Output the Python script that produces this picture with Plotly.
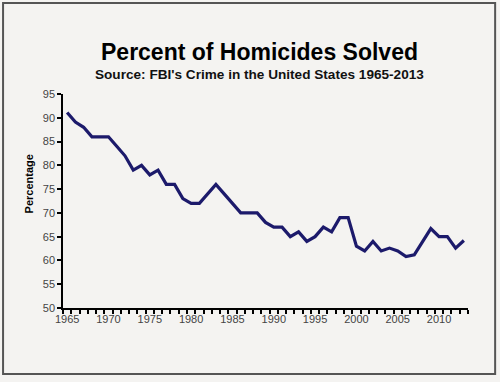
import plotly.graph_objects as go

years = list(range(1965, 2014))
solved_pct = [91.1, 89.1, 88.0, 86.0, 86.0, 86.0, 84.0, 82.0, 79.0, 80.0,
              78.0, 79.0, 76.0, 76.0, 73.0, 72.0, 72.0, 74.0, 76.0, 74.0,
              72.0, 70.0, 70.0, 70.0, 68.0, 67.0, 67.0, 65.0, 66.0, 64.0,
              65.0, 67.0, 66.0, 69.0, 69.0, 63.0, 62.0, 64.0, 62.0, 62.6,
              62.0, 60.8, 61.2, 63.8, 66.7, 65.0, 65.0, 62.6, 64.2]
x_labels = [1965, 1970, 1975, 1980, 1985, 1990, 1995, 2000, 2005, 2010]
y_ticks = [50, 55, 60, 65, 70, 75, 80, 85, 90, 95]

fig = go.Figure()
fig.add_trace(go.Scatter(x=years, y=solved_pct, mode="lines",
                         line=dict(color="#1c1a6b", width=3.2),
                         hoverinfo="x+y"))

fig.update_layout(
    width=500, height=382,
    margin=dict(l=63, r=32, t=94, b=74),
    paper_bgcolor="#f4f3f1", plot_bgcolor="#f4f3f1",
    showlegend=False,
    font=dict(family="Liberation Sans, Arial, sans-serif", color="#222"),
    shapes=[dict(type="rect", xref="paper", yref="paper",
                 x0=-0.148, x1=1.067, y0=-0.308, y1=1.425,
                 line=dict(color="#555", width=2), fillcolor="rgba(0,0,0,0)",
                 layer="below")],
    annotations=[
        dict(text="<b>Percent of Homicides Solved</b>", xref="paper", yref="paper",
             x=0.485, y=1.196, xanchor="center", yanchor="middle", showarrow=False,
             font=dict(size=23, color="#000")),
        dict(text="<b>Source: FBI's Crime in the United States 1965-2013</b>",
             xref="paper", yref="paper", x=0.485, y=1.089, xanchor="center",
             yanchor="middle", showarrow=False, font=dict(size=13.6, color="#111")),
        dict(text="<b>Percentage</b>", xref="paper", yref="paper",
             x=-0.085, y=0.58, xanchor="center", yanchor="middle", textangle=-90,
             showarrow=False, font=dict(size=11, color="#000")),
    ],
)
fig.update_xaxes(range=[1964.5, 2013.5], tickmode="array", tickvals=x_labels,
                 ticks="", showgrid=False, zeroline=False,
                 showline=True, linecolor="#000", linewidth=1.5,
                 tickfont=dict(size=11, color="#444"),
                 minor=dict(tickmode="linear", tick0=1964.5, dtick=1,
                            ticks="outside", ticklen=4, tickcolor="#000",
                            tickwidth=1.5, showgrid=False))
fig.update_yaxes(range=[50, 95], tickmode="array", tickvals=y_ticks,
                 ticks="outside", ticklen=4, tickcolor="#000", tickwidth=1.5,
                 showgrid=False, zeroline=False,
                 showline=True, linecolor="#000", linewidth=1.5,
                 tickfont=dict(size=11, color="#444"))

fig.write_html("out.html", config={"displayModeBar": False},
               post_script="document.body.style.margin='0';"
                           "document.body.style.background='#f4f3f1';")
